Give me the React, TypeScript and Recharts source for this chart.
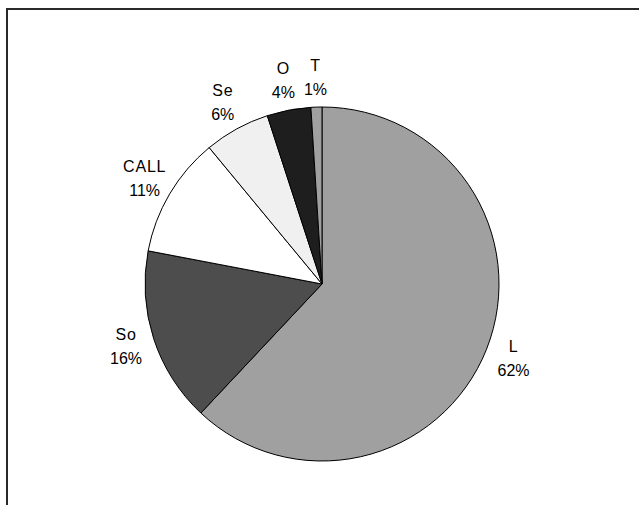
import { Cell, Pie, PieChart } from "recharts";

const names = ["L", "So", "CALL", "Se", "O", "T"];
const shares = [62, 16, 11, 6, 4, 1];
const fills = ["#a0a0a0", "#4d4d4d", "#ffffff", "#f0f0f0", "#1e1e1e", "#a0a0a0"];

const data = names.map((name, i) => ({ name, value: shares[i] }));

const RAD = Math.PI / 180;

// two-line label (name over percentage) placed just outside the slice
function renderLabel(props: any) {
  const { cx, cy, midAngle, outerRadius, name, value } = props;
  const r = outerRadius + 29;
  const x = cx + r * Math.cos(-midAngle * RAD);
  const y = cy + r * Math.sin(-midAngle * RAD);
  return (
    <text
      x={x}
      y={y}
      textAnchor="middle"
      fill="#000"
      fontSize={16}
      fontFamily="'Liberation Sans', Arial, sans-serif"
    >
      <tspan x={x} y={y - 7.5} letterSpacing={0.8}>
        {name}
      </tspan>
      <tspan x={x} y={y + 16.5}>
        {value}%
      </tspan>
    </text>
  );
}

export default function App() {
  return (
    <div
      style={{
        position: "absolute",
        left: 6,
        top: 8,
        width: 633,
        height: 497,
        boxSizing: "border-box",
        borderTop: "2px solid #2a2a2a",
        borderLeft: "2px solid #2a2a2a",
        background: "#fff",
      }}
    >
      <PieChart
        width={631}
        height={495}
        margin={{ top: 0, right: 0, bottom: 0, left: 0 }}
      >
        <Pie
          data={data}
          dataKey="value"
          nameKey="name"
          cx={314}
          cy={274}
          outerRadius={177}
          startAngle={90}
          endAngle={-270}
          stroke="#000"
          strokeWidth={1}
          label={renderLabel}
          labelLine={false}
          isAnimationActive={false}
        >
          {data.map((d, i) => (
            <Cell key={d.name} fill={fills[i]} />
          ))}
        </Pie>
      </PieChart>
    </div>
  );
}
